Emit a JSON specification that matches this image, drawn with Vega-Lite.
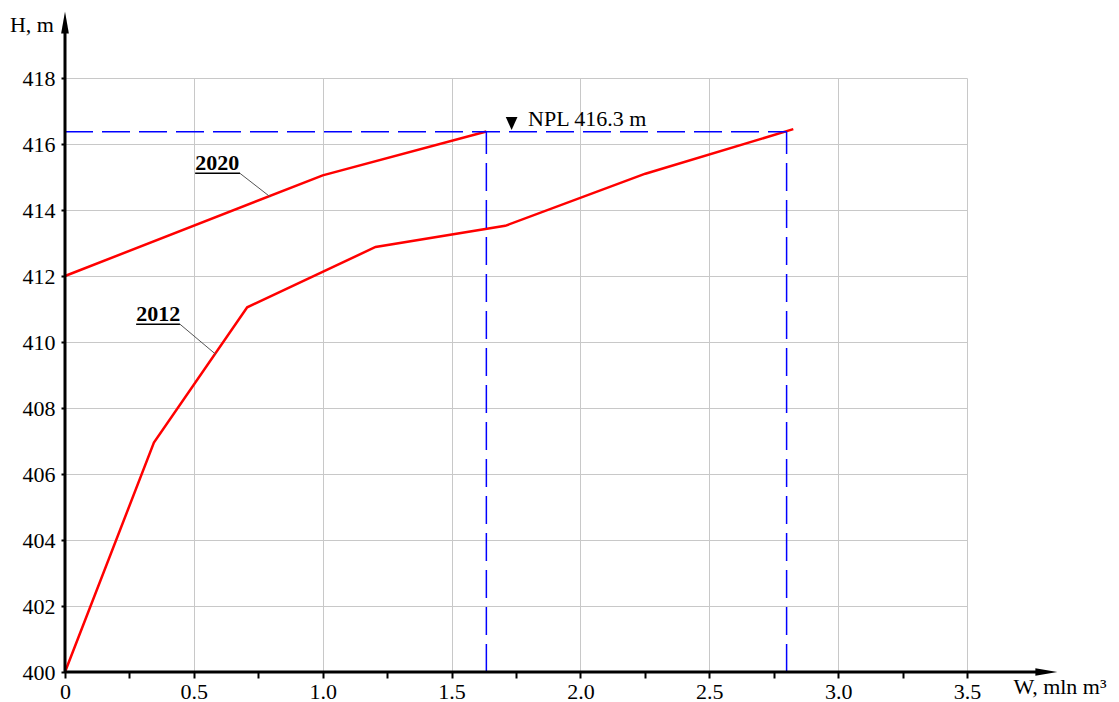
{
  "$schema": "https://vega.github.io/schema/vega-lite/v6.json",
  "width": 902,
  "height": 594,
  "autosize": "none",
  "padding": {"left": 65, "top": 78, "right": 152, "bottom": 30},
  "background": "white",
  "config": {
    "view": {"stroke": null},
    "font": "Liberation Serif",
    "text": {"font": "Liberation Serif", "color": "black"}
  },
  "datasets": {
    "curves": [
      {"year": "2020", "W": 0, "H": 412.0},
      {"year": "2020", "W": 1.0, "H": 415.05},
      {"year": "2020", "W": 1.635, "H": 416.38},
      {"year": "2012", "W": 0, "H": 400.0},
      {"year": "2012", "W": 0.345, "H": 406.95},
      {"year": "2012", "W": 0.707, "H": 411.05},
      {"year": "2012", "W": 1.205, "H": 412.88},
      {"year": "2012", "W": 1.708, "H": 413.52},
      {"year": "2012", "W": 2.252, "H": 415.1},
      {"year": "2012", "W": 2.826, "H": 416.45}
    ],
    "npl": [
      {"W": 0, "H": 416.37, "W2": 2.80, "H2": 416.37},
      {"W": 1.635, "H": 400, "W2": 1.635, "H2": 416.37},
      {"W": 2.80, "H": 400, "W2": 2.80, "H2": 416.37}
    ],
    "axes": [
      {"W": 0, "H": 400, "W2": 3.78, "H2": 400},
      {"W": 0, "H": 400, "W2": 0, "H2": 419.6}
    ],
    "underlines": [
      {"W": 0.505, "H": 415.11, "W2": 0.679, "H2": 415.11},
      {"W": 0.276, "H": 410.54, "W2": 0.446, "H2": 410.54}
    ],
    "leaders": [
      {"W": 0.679, "H": 415.11, "W2": 0.796, "H2": 414.40},
      {"W": 0.446, "H": 410.54, "W2": 0.586, "H2": 409.62}
    ],
    "yearLabels": [
      {"W": 0.505, "H": 415.2, "label": "2020"},
      {"W": 0.276, "H": 410.63, "label": "2012"}
    ]
  },
  "layer": [
    {
      "data": {"name": "curves"},
      "mark": {"type": "line", "color": "#ff0000", "strokeWidth": 2.5},
      "encoding": {
        "x": {
          "field": "W", "type": "quantitative",
          "scale": {"domain": [0, 3.5], "nice": false, "zero": false},
          "axis": {
            "title": null,
            "domain": false,
            "values": [0, 0.25, 0.5, 0.75, 1, 1.25, 1.5, 1.75, 2, 2.25, 2.5, 2.75, 3, 3.25, 3.5],
            "labelExpr": "datum.value == 0 ? '0' : (datum.value * 2 == floor(datum.value * 2) ? format(datum.value, '.1f') : '')",
            "grid": true,
            "gridColor": "#c8c8c8",
            "gridWidth": 1,
            "gridOpacity": {"condition": {"test": "datum.value * 2 == floor(datum.value * 2)", "value": 1}, "value": 0},
            "ticks": true,
            "tickColor": "black",
            "tickWidth": 2,
            "tickSize": 6,
            "labelPadding": 3,
            "labelFont": "Liberation Serif",
            "labelFontSize": 22,
            "labelColor": "black",
            "labelFlush": false,
            "labelOverlap": false
          }
        },
        "y": {
          "field": "H", "type": "quantitative",
          "scale": {"domain": [400, 418], "nice": false, "zero": false},
          "axis": {
            "title": null,
            "domain": false,
            "values": [400, 402, 404, 406, 408, 410, 412, 414, 416, 418],
            "grid": true,
            "gridColor": "#c8c8c8",
            "gridWidth": 1,
            "ticks": true,
            "tickColor": "black",
            "tickWidth": 2,
            "tickSize": 4,
            "labelPadding": 6,
            "labelFont": "Liberation Serif",
            "labelFontSize": 22,
            "labelColor": "black",
            "labelFlush": false,
            "labelOverlap": false
          }
        },
        "detail": {"field": "year", "type": "nominal"}
      }
    },
    {
      "data": {"name": "npl"},
      "mark": {"type": "rule", "color": "#0000ff", "strokeWidth": 1.5, "strokeDash": [28, 9]},
      "encoding": {
        "x": {"field": "W", "type": "quantitative"},
        "y": {"field": "H", "type": "quantitative"},
        "x2": {"field": "W2"},
        "y2": {"field": "H2"}
      }
    },
    {
      "data": {"name": "axes"},
      "mark": {"type": "rule", "color": "black", "strokeWidth": 3},
      "encoding": {
        "x": {"field": "W", "type": "quantitative"},
        "y": {"field": "H", "type": "quantitative"},
        "x2": {"field": "W2"},
        "y2": {"field": "H2"}
      }
    },
    {
      "data": {"values": [{"W": 3.808, "H": 400}]},
      "mark": {"type": "point", "filled": true, "color": "black", "opacity": 1, "size": 484, "shape": "M-1,-0.35L1,0L-1,0.35Z"},
      "encoding": {
        "x": {"field": "W", "type": "quantitative"},
        "y": {"field": "H", "type": "quantitative"}
      }
    },
    {
      "data": {"values": [{"W": 0, "H": 419.68}]},
      "mark": {"type": "point", "filled": true, "color": "black", "opacity": 1, "size": 484, "shape": "M-0.35,1L0,-1L0.35,1Z"},
      "encoding": {
        "x": {"field": "W", "type": "quantitative"},
        "y": {"field": "H", "type": "quantitative"}
      }
    },
    {
      "data": {"values": [{"W": 1.733, "H": 416.62}]},
      "mark": {"type": "point", "filled": true, "color": "black", "opacity": 1, "size": 169, "shape": "M-0.9,-1L0.9,-1L0,1Z"},
      "encoding": {
        "x": {"field": "W", "type": "quantitative"},
        "y": {"field": "H", "type": "quantitative"}
      }
    },
    {
      "data": {"values": [{"W": 1.797, "H": 416.54, "label": "NPL 416.3 m"}]},
      "mark": {"type": "text", "align": "left", "baseline": "alphabetic", "fontSize": 22, "font": "Liberation Serif"},
      "encoding": {
        "x": {"field": "W", "type": "quantitative"},
        "y": {"field": "H", "type": "quantitative"},
        "text": {"field": "label"}
      }
    },
    {
      "data": {"name": "underlines"},
      "mark": {"type": "rule", "color": "black", "strokeWidth": 1.5},
      "encoding": {
        "x": {"field": "W", "type": "quantitative"},
        "y": {"field": "H", "type": "quantitative"},
        "x2": {"field": "W2"},
        "y2": {"field": "H2"}
      }
    },
    {
      "data": {"name": "leaders"},
      "mark": {"type": "rule", "color": "#555555", "strokeWidth": 1},
      "encoding": {
        "x": {"field": "W", "type": "quantitative"},
        "y": {"field": "H", "type": "quantitative"},
        "x2": {"field": "W2"},
        "y2": {"field": "H2"}
      }
    },
    {
      "data": {"name": "yearLabels"},
      "mark": {"type": "text", "align": "left", "baseline": "alphabetic", "fontSize": 22, "fontWeight": "bold", "font": "Liberation Serif"},
      "encoding": {
        "x": {"field": "W", "type": "quantitative"},
        "y": {"field": "H", "type": "quantitative"},
        "text": {"field": "label"}
      }
    },
    {
      "data": {"values": [
        {"W": -0.2135, "H": 419.38, "label": "H, m"},
        {"W": 3.68, "H": 399.33, "label": "W, mln m³"}
      ]},
      "mark": {"type": "text", "align": "left", "baseline": "alphabetic", "fontSize": 22, "font": "Liberation Serif"},
      "encoding": {
        "x": {"field": "W", "type": "quantitative"},
        "y": {"field": "H", "type": "quantitative"},
        "text": {"field": "label"}
      }
    }
  ]
}
